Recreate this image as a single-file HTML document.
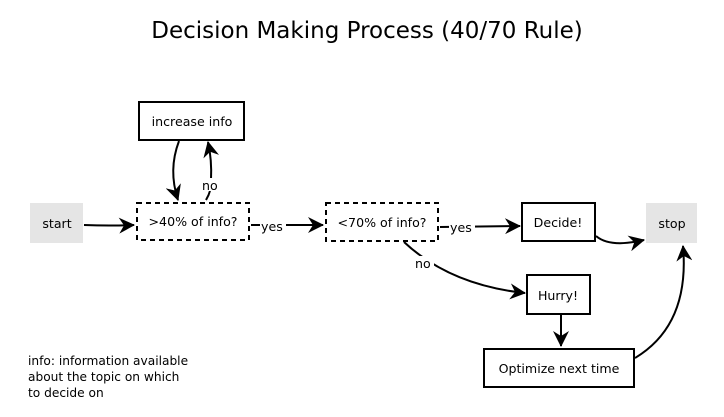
<!DOCTYPE html>
<html><head><meta charset="utf-8"><style>
html,body{margin:0;padding:0;background:#fff;width:724px;height:417px;overflow:hidden}
svg text{font-family:"DejaVu Sans","Liberation Sans",sans-serif;fill:#000}
</style></head><body>
<svg width="724" height="417" viewBox="0 0 724 417" xmlns="http://www.w3.org/2000/svg">
<defs>
<marker id="b" markerWidth="16" markerHeight="16" refX="15" refY="8" orient="auto" markerUnits="userSpaceOnUse" viewBox="0 0 16 16"><path d="M0,0 L16,8 L0,16 L5,8 z" fill="#000"/></marker></defs>
<text x="367" y="38" font-size="23" text-anchor="middle">Decision Making Process (40/70 Rule)</text>
<g font-size="12.6" text-anchor="middle">
<rect x="30" y="203" width="53" height="40" fill="#e5e5e5"/><text x="57" y="228">start</text>
<rect x="139" y="102" width="105" height="38" fill="#fff" stroke="#000" stroke-width="2"/><text x="192" y="126">increase info</text>
<rect x="137" y="203" width="112" height="37" fill="#fff" stroke="#000" stroke-width="2" stroke-dasharray="5,4"/><text x="193" y="226">&gt;40% of info?</text>
<rect x="326" y="203" width="112" height="38" fill="#fff" stroke="#000" stroke-width="2" stroke-dasharray="5,4"/><text x="382" y="227">&lt;70% of info?</text>
<rect x="522" y="203" width="73" height="38" fill="#fff" stroke="#000" stroke-width="2"/><text x="558" y="227">Decide!</text>
<rect x="646" y="203" width="51" height="40" fill="#e5e5e5"/><text x="672" y="228">stop</text>
<rect x="527" y="275" width="63" height="39" fill="#fff" stroke="#000" stroke-width="2"/><text x="558" y="300">Hurry!</text>
<rect x="484" y="349" width="150" height="38" fill="#fff" stroke="#000" stroke-width="2"/><text x="559" y="373">Optimize next time</text>
</g>
<g fill="none" stroke="#000" stroke-width="2">
<path d="M84,225 Q110,226 134,225" marker-end="url(#b)"/>
<path d="M179,141 Q168,170 178,200" marker-end="url(#b)"/>
<path d="M206,200 Q212,190 211,180 Q212,160 208,142" marker-end="url(#b)"/>
<path d="M251,225 L323,225" marker-end="url(#b)"/>
<path d="M440,227 L520,226" marker-end="url(#b)"/>
<path d="M404,242 Q450,285 525,293" marker-end="url(#b)"/>
<path d="M561,315 L561,346" marker-end="url(#b)"/>
<path d="M596,236 Q610,248 644,240" marker-end="url(#b)"/>
<path d="M635,358 Q690,325 683,246" marker-end="url(#b)"/>
</g>
<g font-size="12.6">
<rect x="201" y="178" width="18" height="13" fill="#fff"/><text x="202" y="190">no</text>
<rect x="260" y="219" width="26" height="14" fill="#fff"/><text x="261" y="231">yes</text>
<rect x="449" y="220" width="26" height="14" fill="#fff"/><text x="450" y="232">yes</text>
<rect x="414" y="256" width="20" height="13" fill="#fff"/><text x="415" y="268">no</text>
</g>
<g font-size="12.2">
<text x="28" y="365">info: information available</text>
<text x="28" y="381">about the topic on which</text>
<text x="28" y="397">to decide on</text>
</g>
</svg>
</body></html>
